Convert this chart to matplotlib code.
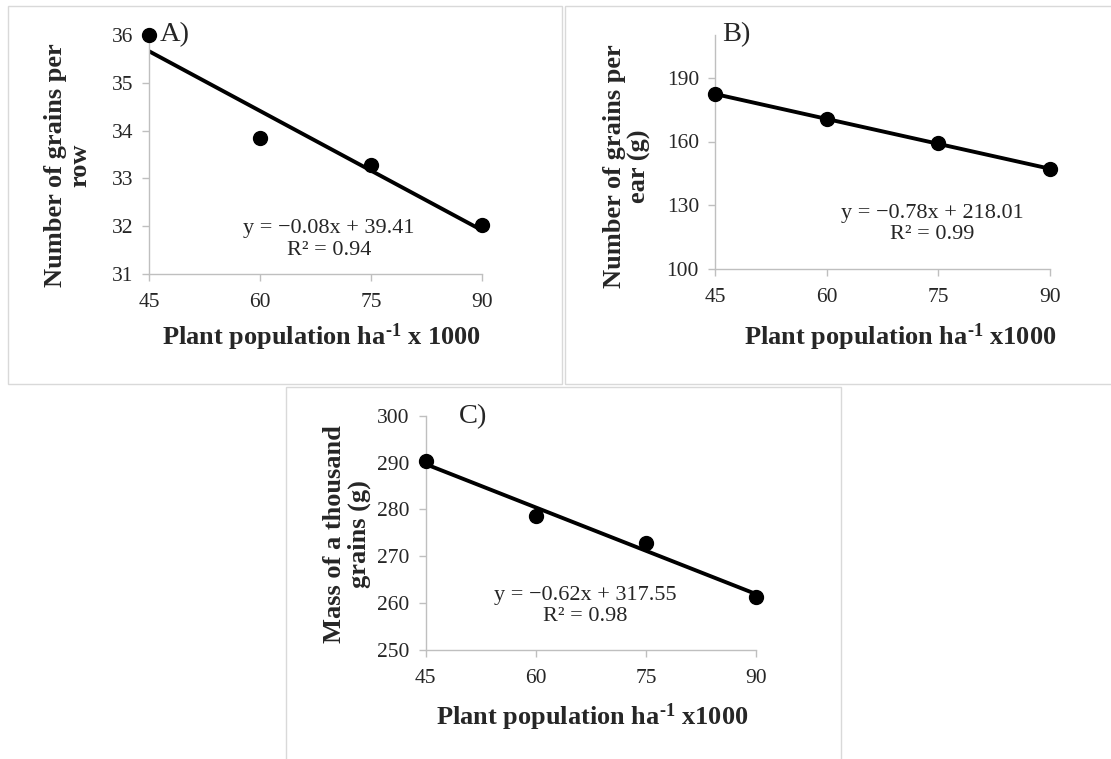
"""
Grain yield components vs plant population (three panels)
"""

import numpy as np
import matplotlib
matplotlib.use("Agg")
import matplotlib.pyplot as plt
from matplotlib.patches import Rectangle

plt.rcParams["font.family"] = ["Liberation Serif", "DejaVu Serif"]
# math only used for the bold superscript in the x titles
plt.rcParams["mathtext.fontset"] = "custom"
plt.rcParams["mathtext.rm"] = "Liberation Serif:bold"
plt.rcParams["mathtext.it"] = "Liberation Serif:bold"
plt.rcParams["mathtext.bf"] = "Liberation Serif:bold"
plt.rcParams["mathtext.default"] = "rm"

W, H = 1111, 759

population = [45, 60, 75, 90]
grains_per_row = [36.0, 33.85, 33.27, 32.03]
grains_per_ear = [182.2, 170.5, 159.4, 146.9]
thousand_grain_mass = [290.3, 278.6, 272.9, 261.4]

eq_a = "y = \u22120.08x + 39.41\nR\u00b2 = 0.94"
eq_b = "y = \u22120.78x + 218.01\nR\u00b2 = 0.99"
eq_c = "y = \u22120.62x + 317.55\nR\u00b2 = 0.98"

ylab_a = "Number of grains per\nrow"
ylab_b = "Number of grains per\near (g)"
ylab_c = "Mass of a thousand\ngrains (g)"
xlab_a = r"Plant population ha$^{\text{-}1}$ x 1000"
xlab_bc = r"Plant population ha$^{\text{-}1}$ x1000"

GREY = "#bfbfbf"
TXT = "#262626"


def px(x, y):
    """
    Pixel position (from top left) to figure fraction
    """
    return x / W, 1 - y / H


def axes_at(fig, left, top, right, bottom):
    """
    Adds an axes spanning the given pixel box
    """
    x0, y1 = px(left, top)
    x1, y0 = px(right, bottom)
    return fig.add_axes([x0, y0, x1 - x0, y1 - y0])


def panel(ax, y, ylim, yticks, label, label_pos, eq, eq_pos):
    """
    Scatter with linear trend line, Excel style
    """
    x = np.array(population, dtype=float)
    y = np.array(y, dtype=float)
    slope, icpt = np.polyfit(x, y, 1)
    ax.plot(x, slope * x + icpt, color="black", lw=2.8, zorder=2,
            solid_capstyle="butt")
    ax.plot(x, y, "o", color="black", ms=10, zorder=3, clip_on=False)

    ax.set_xlim(45, 90)
    ax.set_ylim(*ylim)
    ax.set_xticks(population)
    ax.set_yticks(yticks)
    for side in ("top", "right"):
        ax.spines[side].set_visible(False)
    for side in ("left", "bottom"):
        ax.spines[side].set_color(GREY)
        ax.spines[side].set_linewidth(1.0)
    ax.tick_params(axis="both", colors=GREY, labelcolor=TXT,
                   labelsize=15.5, length=5, width=1.0)
    ax.tick_params(axis="x", pad=8.5)
    ax.tick_params(axis="y", pad=6.5)
    ax.set_facecolor("none")

    ax.text(label_pos[0], label_pos[1], label, transform=ax.transAxes,
            fontsize=20.5, ha="left", va="center", color=TXT)
    ax.text(eq_pos[0], eq_pos[1], eq, transform=ax.transAxes,
            fontsize=16, ha="center", va="center", multialignment="center",
            linespacing=1.16, color=TXT)


fig = plt.figure(figsize=(W / 100, H / 100), dpi=100)

# frames around each panel
for (l, t, r, b) in [(8, 6, 562, 384), (565, 6, 1120, 384), (286, 387, 841, 765)]:
    x0, y1 = px(l, t)
    x1, y0 = px(r, b)
    fig.add_artist(Rectangle((x0, y0), x1 - x0, y1 - y0, transform=fig.transFigure,
                             fill=False, edgecolor="#d9d9d9", lw=1.0))

ax_a = axes_at(fig, 149, 35, 482, 274)
panel(ax_a, grains_per_row, (31, 36), [31, 32, 33, 34, 35, 36],
      "A)", (0.031, 1.0), eq_a, (0.54, 0.144))

ax_b = axes_at(fig, 715, 35, 1050, 269.3)
panel(ax_b, grains_per_ear, (100, 210), [100, 130, 160, 190],
      "B)", (0.022, 1.0), eq_b, (0.649, 0.193))

ax_c = axes_at(fig, 425.7, 415.7, 756, 650)
panel(ax_c, thousand_grain_mass, (250, 300), [250, 260, 270, 280, 290, 300],
      "C)", (0.099, 0.996), eq_c, (0.484, 0.189))

# axis titles
for (x, y, txt) in [(68, 165, ylab_a), (627, 166, ylab_b), (347, 534, ylab_c)]:
    fig.text(*px(x, y), txt, rotation=90, ha="center", va="center",
             multialignment="center", fontsize=19, fontweight="bold",
             linespacing=1.08, color=TXT)

for (x, y, txt) in [(322, 337, xlab_a), (900, 337, xlab_bc), (592, 717, xlab_bc)]:
    fig.text(*px(x, y), txt, ha="center", va="center", fontsize=19,
             fontweight="bold", color=TXT)

fig.savefig("out.png", dpi=100, facecolor="white")
